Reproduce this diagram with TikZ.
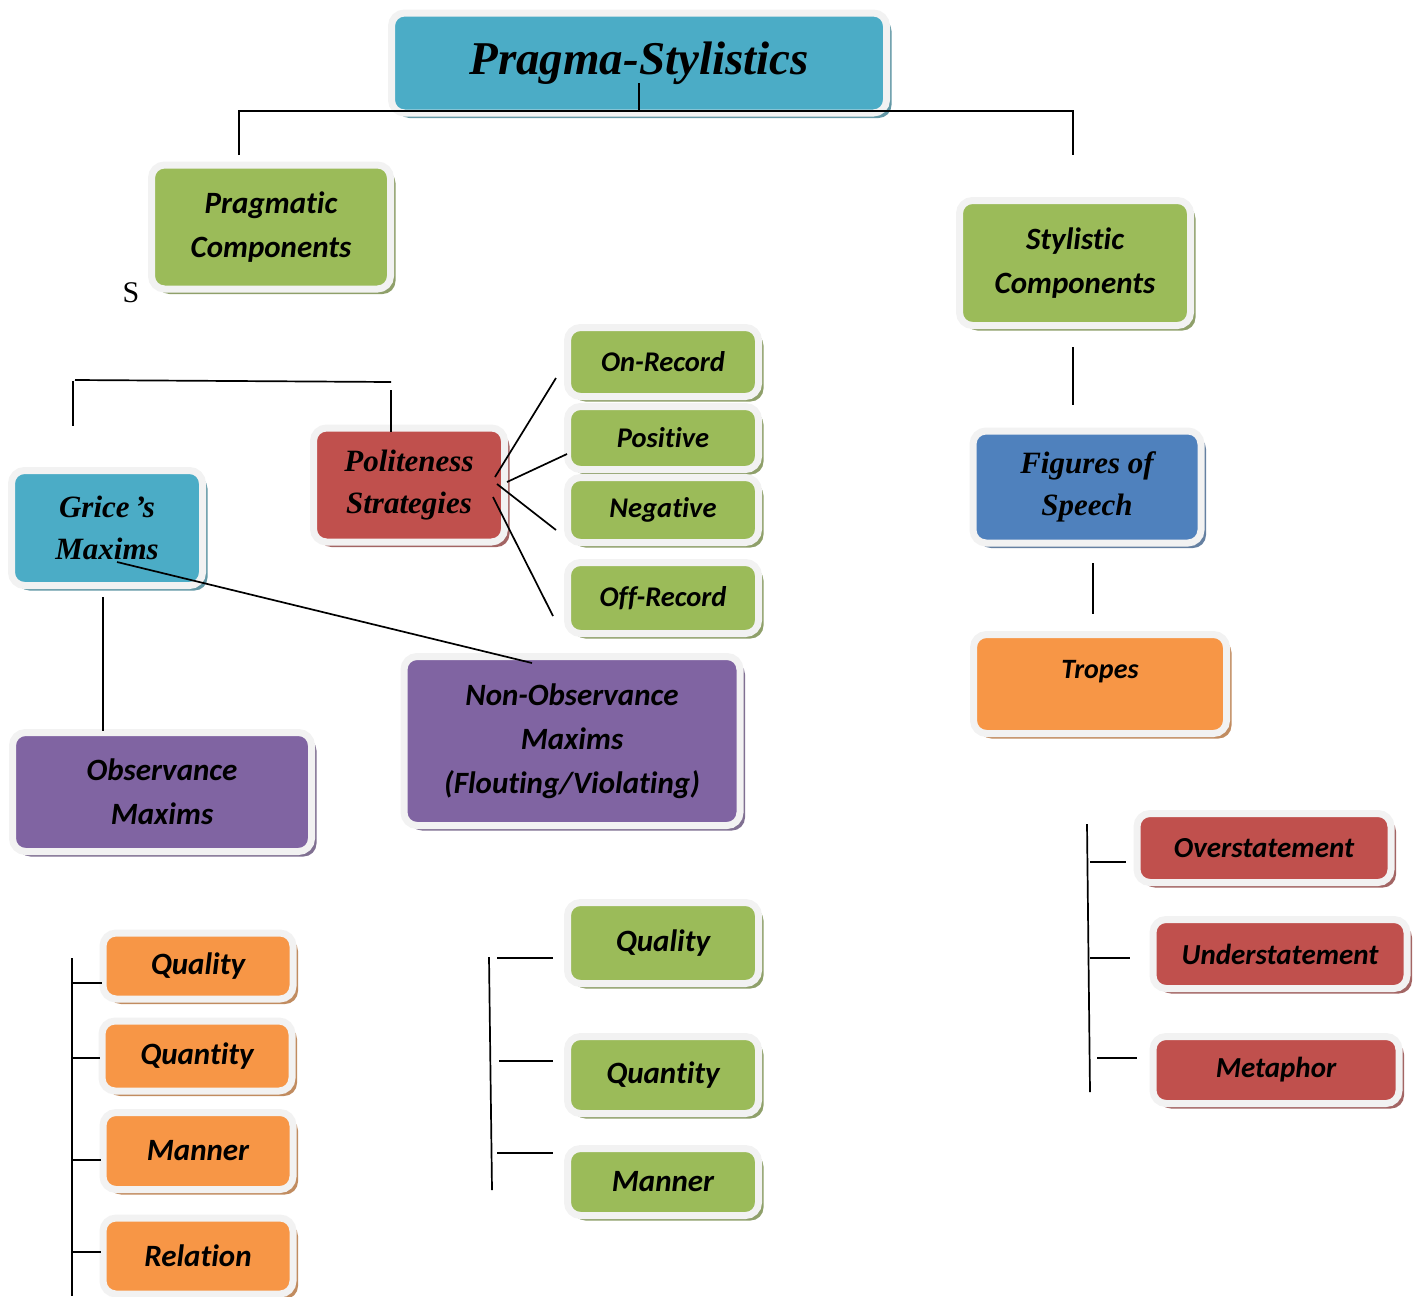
\documentclass[tikz,border=0pt]{standalone}
\usepackage{fontspec}
\setmainfont{Liberation Serif}
\newfontfamily\boxsans{Carlito}[Ligatures=NoCommon]
\usetikzlibrary{shadows}

\definecolor{aqua}{HTML}{4BACC6}
\definecolor{leaf}{HTML}{9BBB59}
\definecolor{brick}{HTML}{C0504D}
\definecolor{plum}{HTML}{8064A2}
\definecolor{tang}{HTML}{F79646}
\definecolor{sky}{HTML}{4F81BD}
\definecolor{rim}{HTML}{F2F2F2}

\tikzset{
  box/.style={draw=rim, line width=7pt, fill=#1, rounded corners=13pt, inner sep=0pt, align=center,
    drop shadow={shadow xshift=5pt, shadow yshift=-5pt, fill=#1!55!gray, opacity=1}},
  ser/.style={font=\bfseries\itshape\fontsize{#1}{42}\selectfont},
  ser/.default=31,
  san/.style={font=\boxsans\bfseries\itshape\fontsize{#1}{44}\selectfont},
  san/.default=31,
  link/.style={line width=1.7pt}
}

\begin{document}
\begin{tikzpicture}[x=1pt, y=-1pt]
        \useasboundingbox (0,0) rectangle (1420,1296);

        % boxes
        \node[box=aqua, ser=47, minimum width=495, minimum height=100] (title) at (639,63) {Pragma-Stylistics};
        \node[box=leaf, san, minimum width=239, minimum height=124] (prag) at (271,227) {Pragmatic\\Components};
        \node[box=leaf, san, minimum width=231, minimum height=125] (styl) at (1075,263) {Stylistic\\Components};
        \node (s) at (131,293) {\fontsize{30}{30}\selectfont S};

        \node[box=aqua, ser, minimum width=191, minimum height=115] (grice) at (107,528) {Grice\,’s\\Maxims};
        \node[box=brick, ser, minimum width=191, minimum height=114] (polite) at (409,485) {Politeness\\Strategies};

        \node[box=leaf, san=28.5, minimum width=191, minimum height=69] (onrec) at (663,362) {On-Record};
        \node[box=leaf, san=28.5, minimum width=191, minimum height=63] (posit) at (663,438) {Positive};
        \node[box=leaf, san=28.5, minimum width=191, minimum height=65] (negat) at (663,510) {Negative};
        \node[box=leaf, san=28.5, minimum width=191, minimum height=71] (offrec) at (663,598) {Off-Record};

        \node[box=sky, ser, minimum width=228, minimum height=112] (figs) at (1087,487) {Figures of\\Speech};
        \node[box=tang, san=28, minimum width=253, minimum height=99, text depth=30pt] (tropes) at (1100,684) {Tropes};

        \node[box=plum, san, minimum width=336, minimum height=169] (nonobs) at (572,741) {Non-Observance\\Maxims\\(Flouting/Violating)};
        \node[box=plum, san, minimum width=299, minimum height=119] (obs) at (162,792) {Observance\\Maxims};

        \node[box=tang, san, minimum width=190, minimum height=66] (lqual) at (198,966) {Quality};
        \node[box=tang, san, minimum width=190, minimum height=70] (lquan) at (197,1056) {Quantity};
        \node[box=tang, san, minimum width=190, minimum height=77] (lmann) at (198,1151) {Manner};
        \node[box=tang, san, minimum width=190, minimum height=76] (lrel) at (198,1256) {Relation};

        \node[box=leaf, san, minimum width=191, minimum height=81] (mqual) at (663,943) {Quality};
        \node[box=leaf, san, minimum width=191, minimum height=77] (mquan) at (663,1075) {Quantity};
        \node[box=leaf, san, minimum width=191, minimum height=67] (mmann) at (663,1182) {Manner};

        \node[box=brick, san=29, minimum width=254, minimum height=69] (over) at (1264,848) {Overstatement};
        \node[box=brick, san=29, minimum width=254, minimum height=69] (under) at (1280,954) {Understatement};
        \node[box=brick, san=29, minimum width=246, minimum height=67] (meta) at (1276,1070) {Metaphor};

        % line ends
        \coordinate (T0) at (639,83);
        \coordinate (T1) at (639,111);
        \coordinate (TL) at (239,111);
        \coordinate (TR) at (1073,111);
        \coordinate (TL2) at (239,155);
        \coordinate (TR2) at (1073,155);

        \coordinate (P1) at (73,426);
        \coordinate (P2) at (73,381);
        \coordinate (P3) at (75,380);
        \coordinate (P4) at (391,382);
        \coordinate (P5) at (391,390);
        \coordinate (P6) at (391,432);

        \coordinate (S1) at (1073,347);
        \coordinate (S2) at (1073,405);
        \coordinate (F1) at (1093,563);
        \coordinate (F2) at (1093,614);

        \coordinate (G1) at (103,597);
        \coordinate (G2) at (103,731);
        \coordinate (G3) at (117,562);
        \coordinate (G4) at (532,663);

        \coordinate (A1) at (495,477);
        \coordinate (A2) at (556,378);
        \coordinate (B1) at (507,482);
        \coordinate (B2) at (567,454);
        \coordinate (C1) at (497,484);
        \coordinate (C2) at (556,530);
        \coordinate (D1) at (493,497);
        \coordinate (D2) at (553,616);

        \coordinate (L0) at (72,958);
        \coordinate (L5) at (72,1296);
        \coordinate (L1) at (72,983);
        \coordinate (L2) at (72,1058);
        \coordinate (L3) at (72,1160);
        \coordinate (L4) at (72,1252);
        \coordinate (L1e) at (102,983);
        \coordinate (L2e) at (100,1058);
        \coordinate (L3e) at (101,1160);
        \coordinate (L4e) at (101,1252);

        \coordinate (M0) at (489,957);
        \coordinate (M4) at (492,1190);
        \coordinate (M1) at (497,958);
        \coordinate (M1e) at (553,958);
        \coordinate (M2) at (499,1061);
        \coordinate (M2e) at (553,1061);
        \coordinate (M3) at (497,1153);
        \coordinate (M3e) at (553,1153);

        \coordinate (R0) at (1087,824);
        \coordinate (R4) at (1090,1092);
        \coordinate (R1) at (1090,862);
        \coordinate (R1e) at (1126,862);
        \coordinate (R2) at (1090,958);
        \coordinate (R2e) at (1130,958);
        \coordinate (R3) at (1097,1058);
        \coordinate (R3e) at (1137,1058);

        % connectors
        \draw[link] (T0) -- (T1);
        \draw[link] (TL2) -- (TL) -- (TR) -- (TR2);
        \draw[link] (P3) -- (P4);
        \draw[link] (P2) -- (P1);
        \draw[link] (P5) -- (P6);
        \draw[link] (S1) -- (S2);
        \draw[link] (F1) -- (F2);
        \draw[link] (G1) -- (G2);
        \draw[link] (G3) -- (G4);
        \draw[link] (A1) -- (A2);
        \draw[link] (B1) -- (B2);
        \draw[link] (C1) -- (C2);
        \draw[link] (D1) -- (D2);

        \draw[link] (L0) -- (L5);
        \draw[link] (L1) -- (L1e);
        \draw[link] (L2) -- (L2e);
        \draw[link] (L3) -- (L3e);
        \draw[link] (L4) -- (L4e);

        \draw[link] (M0) -- (M4);
        \draw[link] (M1) -- (M1e);
        \draw[link] (M2) -- (M2e);
        \draw[link] (M3) -- (M3e);

        \draw[link] (R0) -- (R4);
        \draw[link] (R1) -- (R1e);
        \draw[link] (R2) -- (R2e);
        \draw[link] (R3) -- (R3e);
\end{tikzpicture}
\end{document}
